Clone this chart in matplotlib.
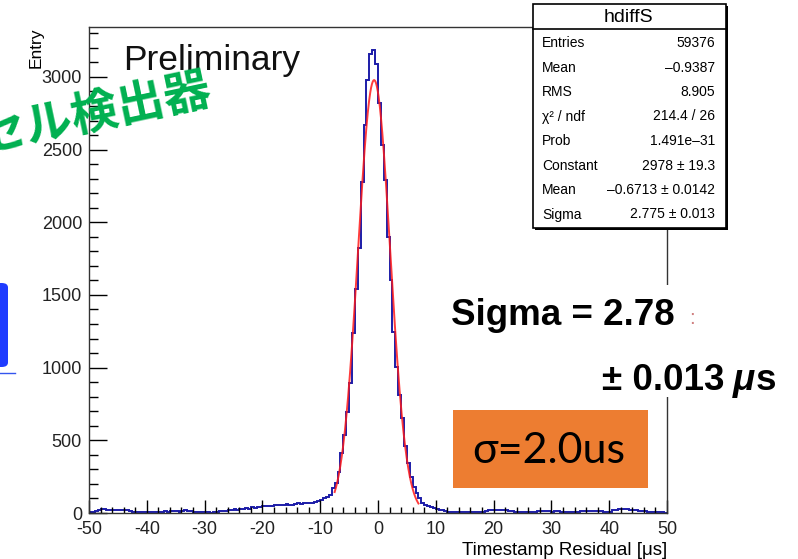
import numpy as np
import matplotlib.pyplot as plt
from matplotlib.patches import Rectangle, FancyBboxPatch
from matplotlib.ticker import MultipleLocator

plt.rcParams['axes.unicode_minus'] = False
plt.rcParams['font.family'] = ['Liberation Sans', 'DejaVu Sans']

W, H = 798, 559

# histogram hdiffS: 200 bins of 0.5 us from -50 to 50
bin_lo, bin_hi, n_bins = -50, 50, 200

# -50 .. -10
left_tail = [8, 10, 12, 20, 25, 28, 24, 22, 20, 22, 20, 18, 20, 18, 15, 8,
             5, 4, 5, 6, 8, 10, 5, 8, 10, 8, 12, 10, 15, 12, 14, 10,
             15, 18, 14, 16, 10, 8, 5, 4, 4, 5, 3, 4, 8, 12, 15, 12,
             20, 18, 25, 22, 30, 28, 32, 30, 38, 35, 42, 40, 45, 48, 50, 46,
             52, 55, 58, 52, 60, 58, 55, 62, 68, 65, 70, 66, 68, 72, 75, 80]
# -10 .. 10
core = [90, 101, 112, 124, 170, 204, 284, 410, 536, 697, 892, 1236,
        1538, 1820, 2278, 2668, 2977, 3160, 3184, 3090, 2818, 2531, 2290, 1900,
        1602, 1247, 1006, 811, 651, 461, 342, 250, 181, 135, 101, 67,
        55, 45, 38, 32]
# 10 .. 50
right_tail = [28, 22, 18, 15, 10, 8, 6, 6, 5, 6, 5, 6, 6, 5, 6, 7,
              8, 15, 20, 22, 20, 18, 20, 18, 18, 16, 14, 10, 6, 5, 6, 7,
              8, 7, 9, 12, 14, 12, 15, 13, 10, 12, 14, 10, 6, 5, 8, 6,
              5, 8, 12, 14, 15, 16, 14, 12, 14, 12, 8, 6, 10, 18, 22, 28,
              30, 25, 28, 22, 18, 20, 16, 14, 12, 10, 8, 6, 5, 4, 5, 3]

# gaus fit result (from stats box)
fit_const, fit_mean, fit_sigma = 2978, -0.6713, 2.775
fit_lo, fit_hi = -7.5, 7.0

stat_labels = ['Entries', 'Mean', 'RMS', 'χ² / ndf', 'Prob', 'Constant', 'Mean', 'Sigma']
stat_values = ['59376', '–0.9387', '8.905', '214.4 / 26', '1.491e–31',
               '2978 ± 19.3', '–0.6713 ± 0.0142', '2.775 ± 0.013']


def fx(px):
    return px / W


def fy(py):
    return 1 - py / H


counts = np.array(left_tail + core + right_tail)
edges = np.linspace(bin_lo, bin_hi, n_bins + 1)

fig = plt.figure(figsize=(W / 100, H / 100), dpi=100)
ax = fig.add_axes([fx(89), fy(513), (667 - 89) / W, (513 - 27) / H])

ax.stairs(counts, edges, color='#1c1ca8', lw=1.4)
xs = np.linspace(fit_lo, fit_hi, 300)
ax.plot(xs, fit_const * np.exp(-0.5 * ((xs - fit_mean) / fit_sigma) ** 2),
        color='#ff1a1a', lw=1.4, alpha=0.85)

ax.set_xlim(bin_lo, bin_hi)
ax.set_ylim(0, counts.max() * 1.05)
ax.xaxis.set_major_locator(MultipleLocator(10))
ax.xaxis.set_minor_locator(MultipleLocator(2))
ax.yaxis.set_major_locator(MultipleLocator(500))
ax.yaxis.set_minor_locator(MultipleLocator(100))
ax.tick_params(axis='y', which='major', direction='in', length=13, width=1, pad=5,
               labelsize=13, labelcolor='#222222')
ax.tick_params(axis='y', which='minor', direction='in', length=6.5, width=1)
ax.tick_params(axis='x', which='major', direction='in', length=9.5, width=1, pad=6,
               labelsize=13, labelcolor='#222222')
ax.tick_params(axis='x', which='minor', direction='in', length=4.5, width=1)
for sp in ax.spines.values():
    sp.set_color('#333333')
    sp.set_linewidth(1.0)

fig.text(fx(123), fy(70), 'Preliminary', fontsize=25.5, color='#111111')
fig.text(fx(36), fy(27), 'Entry', rotation=90, ha='center', va='top', fontsize=12.5)
fig.text(fx(667), fy(555), 'Timestamp Residual [μs]', ha='right', va='baseline', fontsize=13.5)

# stats box
fig.add_artist(Rectangle((fx(535), fy(230)), 193 / W, 224 / H, transform=fig.transFigure,
                         facecolor='black', edgecolor='none', zorder=4))
fig.add_artist(Rectangle((fx(533), fy(228)), 193 / W, 224 / H, transform=fig.transFigure,
                         facecolor='white', edgecolor='black', lw=1.2, zorder=5))
fig.add_artist(plt.Line2D([fx(533), fx(726)], [fy(29), fy(29)], transform=fig.transFigure,
                          color='black', lw=1.2, zorder=6))
fig.text(fx(628), fy(17), 'hdiffS', ha='center', va='center', fontsize=14, zorder=7)
for i, (lab, val) in enumerate(zip(stat_labels, stat_values)):
    yy = fy(43 + i * 24.5)
    fig.text(fx(542), yy, lab, ha='left', va='center', fontsize=10, zorder=7)
    fig.text(fx(715), yy, val, ha='right', va='center', fontsize=10, zorder=7)

# white patch behind the sigma annotation
fig.add_artist(Rectangle((fx(440), fy(397)), (W - 440) / W, 112 / H, transform=fig.transFigure,
                         facecolor='white', edgecolor='none', zorder=4))
fig.text(fx(451), fy(325), 'Sigma = 2.78', fontsize=26.5, fontweight='bold', zorder=7)
fig.text(fx(689), fy(324), ':', fontsize=15, color='#d08080', zorder=7)

# "± 0.013 μs" with an italic mu, pieces placed one after another
renderer = fig.canvas.get_renderer()
t1 = fig.text(fx(602), fy(390), '± 0.013', fontsize=26.5, fontweight='bold', zorder=7)
x_end = t1.get_window_extent(renderer).x1 + 8
t2 = fig.text(x_end / W, fy(390), 'μ', fontsize=26.5, fontweight='bold',
              fontstyle='italic', zorder=7)
x_end = t2.get_window_extent(renderer).x1 + 1
fig.text(x_end / W, fy(390), 's', fontsize=26.5, fontweight='bold', zorder=7)

# orange label
fig.add_artist(Rectangle((fx(453), fy(488)), 195 / W, 78 / H, transform=fig.transFigure,
                         facecolor='#ed7d31', edgecolor='none', zorder=5))
fig.text(fx(549), fy(451), 'σ=2.0us', ha='center', va='center', fontsize=31,
         family=['Lato', 'DejaVu Sans'], zorder=7)

# slide leftovers (the green title is cut by the left edge, as on the slide)
fig.add_artist(FancyBboxPatch((fx(-6), fy(367)), 14 / W, 84 / H, transform=fig.transFigure,
                              boxstyle='round,pad=0,rounding_size=0.008',
                              facecolor='#1f3cff', edgecolor='none', zorder=5))
fig.add_artist(plt.Line2D([0, fx(15)], [fy(373), fy(373)], transform=fig.transFigure,
                          color='#3355ee', lw=1, zorder=5))
fig.text(fx(214), fy(103), 'セル検出器', rotation=12, rotation_mode='anchor',
         ha='right', va='baseline', fontsize=34, fontweight='bold', color='#00b050',
         family=['Noto Sans CJK JP', 'DejaVu Sans'], zorder=7)

fig.savefig('out.png', dpi=100)
